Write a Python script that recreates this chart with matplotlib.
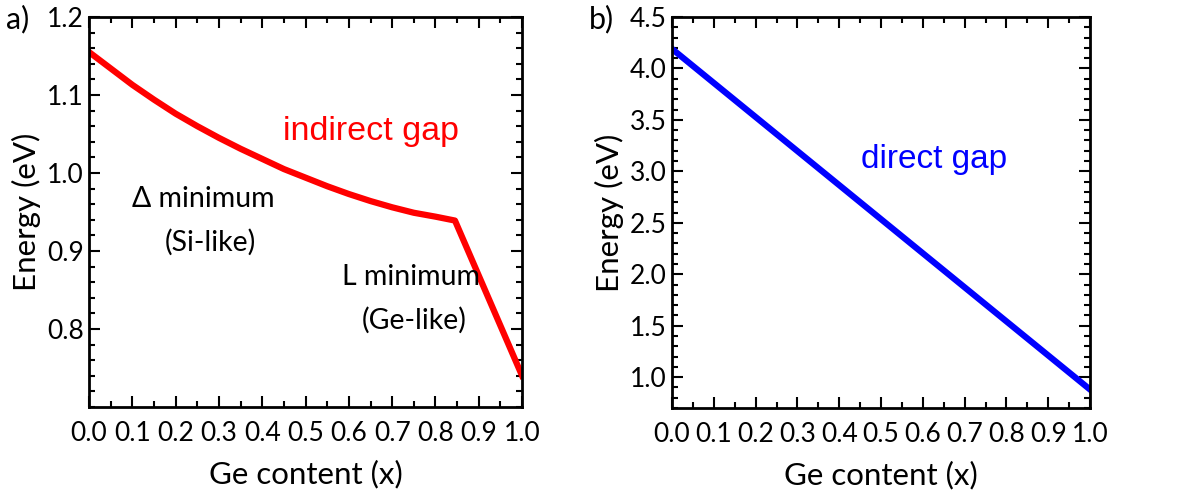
import numpy as np
import matplotlib.pyplot as plt
from matplotlib.ticker import MultipleLocator

# indirect gap (red)
x_ind = [0.0, 0.05, 0.1, 0.15, 0.2, 0.25, 0.3, 0.35, 0.4, 0.45, 0.5,
         0.55, 0.6, 0.65, 0.7, 0.75, 0.8, 0.845, 1.0]
e_ind = [1.155, 1.134, 1.113, 1.094, 1.076, 1.060, 1.045, 1.031, 1.018, 1.005, 0.994,
         0.983, 0.973, 0.964, 0.956, 0.949, 0.944, 0.939, 0.740]

# direct gap (blue), panel b
x_dir = [0.0, 1.0]
e_dir = [4.19, 0.88]

plt.rcParams['font.family'] = ['Lato', 'DejaVu Sans']

fig = plt.figure(figsize=(11.78, 4.92), dpi=100)
ax1 = fig.add_axes([0.0756, 0.1728, 0.3676, 0.7927])
ax2 = fig.add_axes([0.5705, 0.1707, 0.3548, 0.7947])

for ax in (ax1, ax2):
    ax.tick_params(which='both', direction='in', top=True, right=True, width=1.5)
    ax.tick_params(which='major', length=8, labelsize=19)
    ax.tick_params(which='minor', length=4)
    ax.tick_params(axis='x', which='major', pad=10)
    ax.tick_params(axis='y', which='major', pad=4)
    for s in ax.spines.values():
        s.set_linewidth(2)
    ax.set_xlim(0, 1.0)
    ax.xaxis.set_major_locator(MultipleLocator(0.1))
    ax.xaxis.set_minor_locator(MultipleLocator(0.05))
    ax.xaxis.set_major_formatter(plt.FormatStrFormatter('%.1f'))
    ax.yaxis.set_major_formatter(plt.FormatStrFormatter('%.1f'))
    ax.set_xlabel('Ge content (x)', fontsize=22.5, labelpad=10)
    ax.set_ylabel('Energy (eV)', fontsize=22.5, labelpad=4)

ax1.plot(x_ind, e_ind, color='#ff0000', lw=4.5, solid_joinstyle='round')
ax1.set_ylim(0.70, 1.2)
ax1.yaxis.set_major_locator(MultipleLocator(0.1))
ax1.yaxis.set_minor_locator(MultipleLocator(0.02))
ax1.set_yticks([0.8, 0.9, 1.0, 1.1, 1.2])
ax1.text(0.448, 1.053, 'indirect gap', color='#ff0000', fontsize=24.5,
         family=['Liberation Sans'], va='center')
ax1.text(0.10, 0.966, '\u0394 minimum', fontsize=20.5, va='center')
ax1.text(0.174, 0.911, '(Si-like)', fontsize=20.5, va='center')
ax1.text(0.585, 0.867, 'L minimum', fontsize=20.5, va='center')
ax1.text(0.63, 0.811, '(Ge-like)', fontsize=20.5, va='center')

ax2.plot(x_dir, e_dir, color='#0000ff', lw=4.5)
ax2.set_ylim(0.7, 4.5)
ax2.yaxis.set_major_locator(MultipleLocator(0.5))
ax2.yaxis.set_minor_locator(MultipleLocator(0.1))
ax2.set_yticks([1.0, 1.5, 2.0, 2.5, 3.0, 3.5, 4.0, 4.5])
ax2.text(0.452, 3.114, 'direct gap', color='#0000ff', fontsize=24,
         family=['Liberation Sans'], va='center')

fig.text(0.005, 0.962, 'a)', fontsize=22, va='center')
fig.text(0.500, 0.962, 'b)', fontsize=22, va='center')

fig.savefig('out.png', dpi=100)
